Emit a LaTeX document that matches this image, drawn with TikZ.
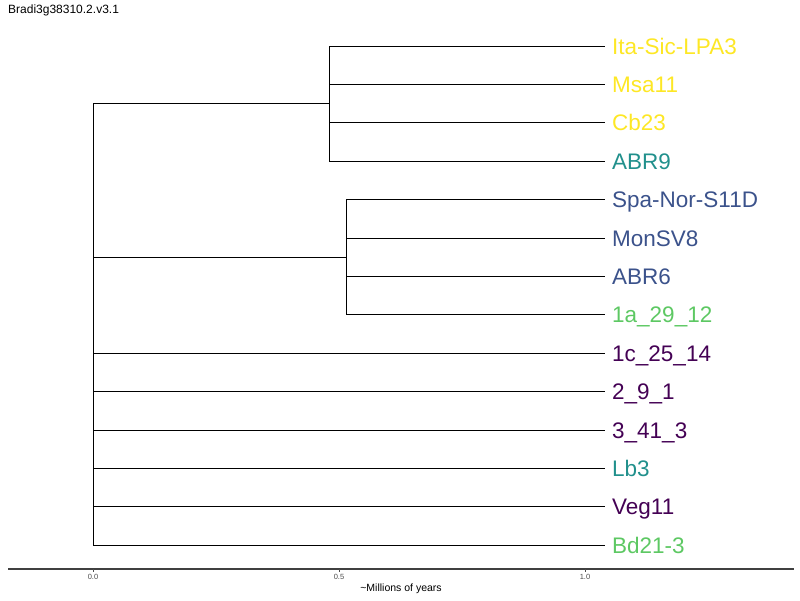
\documentclass[tikz,border=0pt]{standalone}
\usepackage{fontspec}
\setmainfont{Liberation Sans}
\usepackage{xcolor}
\usetikzlibrary{calc, positioning}

\definecolor{vdark}{HTML}{440154}
\definecolor{vblue}{HTML}{3B528B}
\definecolor{vteal}{HTML}{21908C}
\definecolor{vgreen}{HTML}{5DC863}
\definecolor{vyellow}{HTML}{FDE725}

\tikzset{
    leaf/.style={anchor=west, inner xsep=7pt, inner ysep=0pt, text height=16.2pt, text depth=0pt,
        font=\fontsize{22.5}{22.5}\selectfont},
    branch/.style={draw=black, line width=0.9pt},
    tick/.style={draw=black!70, line width=0.6pt},
    ticklabel/.style={font=\fontsize{7.5}{7.5}\selectfont, text=black!70, inner sep=0pt}
}

\begin{document}
\begin{tikzpicture}[x=1pt, y=-1pt]
    \useasboundingbox (0, 0) rectangle (800, 600);

    \node[anchor=west, inner sep=0pt, font=\fontsize{12}{12}\selectfont] (title) at (8, 10) {Bradi3g38310.2.v3.1};

    % leaves
    \node[leaf, text=vyellow] (ita) at (605, 46) {Ita-Sic-LPA3};
    \node[leaf, text=vyellow] (msa) at (605, 84.4) {Msa11};
    \node[leaf, text=vyellow] (cb) at (605, 122.8) {Cb23};
    \node[leaf, text=vteal] (abrn) at (605, 161.2) {ABR9};
    \node[leaf, text=vblue] (spa) at (605, 199.6) {Spa-Nor-S11D};
    \node[leaf, text=vblue] (mon) at (605, 238) {MonSV8};
    \node[leaf, text=vblue] (abrs) at (605, 276.4) {ABR6};
    \node[leaf, text=vgreen] (onea) at (605, 314.8) {1a\_29\_12};
    \node[leaf, text=vdark] (onec) at (605, 353.2) {1c\_25\_14};
    \node[leaf, text=vdark] (two) at (605, 391.6) {2\_9\_1};
    \node[leaf, text=vdark] (three) at (605, 430) {3\_41\_3};
    \node[leaf, text=vteal] (lb) at (605, 468.4) {Lb3};
    \node[leaf, text=vdark] (veg) at (605, 506.8) {Veg11};
    \node[leaf, text=vgreen] (bd) at (605, 545.2) {Bd21-3};

    % internal nodes
    \coordinate (root) at (93, 103.6);
    \coordinate (ca) at (329, 103.6);
    \coordinate (cb0) at (346, 257.2);

    \draw[branch] (root) -- (ca);
    \draw[branch] (root) |- (cb0);
    \foreach \l in {ita, msa, cb, abrn} \draw[branch] (ca) |- (\l.west);
    \foreach \l in {spa, mon, abrs, onea} \draw[branch] (cb0) |- (\l.west);
    \foreach \l in {onec, two, three, lb, veg, bd} \draw[branch] (root) |- (\l.west);

    % axis
    \coordinate (axl) at (8, 569);
    \coordinate (axr) at (794, 569);
    \draw[draw=black!75, line width=1.1pt] (axl) -- (axr);
    \foreach \x/\t in {93/0.0, 339/0.5, 585/1.0} {
        \draw[tick] (\x, 569) -- (\x, 571.5);
        \node[ticklabel] at (\x, 577) {\t};
    }
    \node[inner sep=0pt, font=\fontsize{10.5}{10.5}\selectfont] (axtitle) at (401, 589) {\textasciitilde Millions of years};
\end{tikzpicture}
\end{document}
